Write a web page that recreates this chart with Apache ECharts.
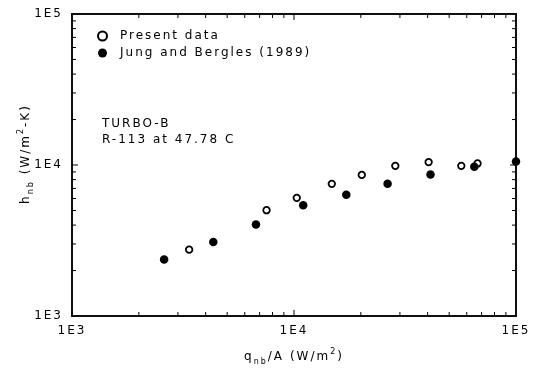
<!DOCTYPE html>
<html>
<head>
<meta charset="utf-8">
<script src="https://cdn.jsdelivr.net/npm/echarts@6/dist/echarts.min.js"></script>
<style>
  html, body { margin: 0; padding: 0; background: #fff; }
  #chart { width: 539px; height: 369px; }
</style>
</head>
<body>
<div id="chart"></div>
<script>
// Nucleate boiling heat transfer coefficient vs. heat flux, TURBO-B tube, R-113.
const presentQ = [3370, 7520, 10290, 14800, 20200, 28600, 40400, 56700, 67100];
const presentH = [2750, 5020, 6060, 7500, 8600, 9870, 10450, 9870, 10240];

const jungQ = [2600, 4330, 6740, 11000, 17200, 26400, 41200, 64900, 100000];
const jungH = [2370, 3090, 4040, 5420, 6360, 7500, 8660, 9720, 10560];

const seriesNames = ['Present data', 'Jung and Bergles (1989)'];
const noteLines = ['TURBO-B', 'R-113 at 47.78 C'];

// Both axes span 1E3 .. 1E5; minor ticks sit at 2..9 of each decade
const AXIS_MIN = 1000;
const AXIS_MAX = 100000;
const majorTicks = [10000];
const minorMantissas = [2, 3, 4, 5, 6, 7, 8, 9];
const minorDecades = [1000, 10000];

// Wide, evenly spaced lettering for every text item on the canvas
(function () {
  const proto = CanvasRenderingContext2D.prototype;
  ['fillText', 'strokeText', 'measureText'].forEach(function (fn) {
    const orig = proto[fn];
    proto[fn] = function () {
      this.letterSpacing = '2px';
      return orig.apply(this, arguments);
    };
  });
})();

const FONT = 'DejaVu Sans';
const minorTicks = [];
minorDecades.forEach(d => minorMantissas.forEach(m => minorTicks.push(m * d)));

const zip = (a, b) => a.map((v, i) => [v, b[i]]);
const expLabel = v => '1E' + Math.round(Math.log10(v));

// Filled rect symbols for ticks and frame edges
const MINOR_LEN = 4;
const MAJOR_LEN = 6;
const FRAME_W = 1.5;
const rectBase = { type: 'scatter', silent: true, clip: false, z: 5, symbol: 'rect', itemStyle: { color: '#000', opacity: 1 } };

function tickSeries(values, len) {
  return [
    Object.assign({}, rectBase, { symbolSize: [1, len], symbolOffset: [0, -len / 2], data: values.map(v => [v, AXIS_MIN]) }),
    Object.assign({}, rectBase, { symbolSize: [1, len], symbolOffset: [0, len / 2], data: values.map(v => [v, AXIS_MAX]) }),
    Object.assign({}, rectBase, { symbolSize: [len, 1], symbolOffset: [len / 2, 0], data: values.map(v => [AXIS_MIN, v]) }),
    Object.assign({}, rectBase, { symbolSize: [len, 1], symbolOffset: [-len / 2, 0], data: values.map(v => [AXIS_MAX, v]) })
  ];
}

const nameRich = {
  b: { fontFamily: FONT, fontSize: 12, color: '#000', lineHeight: 20, verticalAlign: 'middle' },
  sub: { fontFamily: FONT, fontSize: 8, color: '#000', lineHeight: 10, verticalAlign: 'bottom' },
  sup: { fontFamily: FONT, fontSize: 8, color: '#000', lineHeight: 10, verticalAlign: 'top' }
};

const labelStyle = { fontFamily: FONT, fontSize: 12, color: '#000', formatter: expLabel };

function logAxis(extra) {
  return Object.assign({
    type: 'log',
    logBase: 10,
    min: AXIS_MIN,
    max: AXIS_MAX,
    splitNumber: 2,
    axisLine: { show: true, lineStyle: { color: '#000', width: FRAME_W } },
    axisTick: { show: false },
    splitLine: { show: false }
  }, extra);
}

const chart = echarts.init(document.getElementById('chart'));

chart.setOption({
  animation: false,
  backgroundColor: '#fff',
  grid: { left: 72, top: 14, width: 444, height: 302, outerBoundsMode: 'none' },
  xAxis: [
    logAxis({
      position: 'bottom',
      axisLabel: Object.assign({ margin: 8 }, labelStyle),
      name: '{b|q}{sub|nb}{b|/A (W/m}{sup|2}{b|)}',
      nameLocation: 'middle',
      nameGap: 31,
      nameTextStyle: { rich: nameRich }
    }),
    logAxis({ position: 'top', axisLabel: { show: false } })
  ],
  yAxis: [
    logAxis({
      position: 'left',
      axisLabel: Object.assign({ margin: 9 }, labelStyle),
      name: '{b|h}{sub|nb}{b| (W/m}{sup|2}{b|-K)}',
      nameLocation: 'middle',
      nameGap: 36,
      nameMoveOverlap: false,
      nameTextStyle: { rich: nameRich, padding: [0, 0, 0, 22] }
    }),
    logAxis({ position: 'right', axisLabel: { show: false } })
  ],
  legend: {
    orient: 'vertical',
    left: 92,
    top: 24,
    itemWidth: 9,
    itemHeight: 9,
    itemGap: 3,
    icon: 'circle',
    textStyle: { fontFamily: FONT, fontSize: 12, color: '#000', lineHeight: 14, padding: [0, 0, 0, 8] },
    data: seriesNames
  },
  graphic: [{
    type: 'text',
    left: 102,
    top: 116,
    style: {
      text: noteLines.join('\n'),
      font: '12px "' + FONT + '"',
      lineHeight: 16,
      fill: '#000'
    }
  }],
  series: [
    {
      name: seriesNames[0],
      type: 'scatter',
      symbol: 'circle',
      symbolSize: 6.5,
      z: 3,
      itemStyle: { color: '#fff', borderColor: '#000', borderWidth: 1.8, opacity: 1 },
      data: zip(presentQ, presentH)
    },
    {
      name: seriesNames[1],
      type: 'scatter',
      symbol: 'circle',
      symbolSize: 8.5,
      z: 4,
      itemStyle: { color: '#000', opacity: 1 },
      data: zip(jungQ, jungH)
    }
  ].concat(tickSeries(minorTicks, MINOR_LEN), tickSeries(majorTicks, MAJOR_LEN))
});

// Frame edges as filled bars, sized from the grid's own pixel mapping
const lo = chart.convertToPixel({ gridIndex: 0 }, [AXIS_MIN, AXIS_MIN]);
const hi = chart.convertToPixel({ gridIndex: 0 }, [AXIS_MAX, AXIS_MAX]);
const frameW = Math.abs(hi[0] - lo[0]) + FRAME_W;
const frameH = Math.abs(lo[1] - hi[1]) + FRAME_W;
const mid = Math.sqrt(AXIS_MIN * AXIS_MAX);
const opt = chart.getOption();
const frameSeries = [
  Object.assign({}, rectBase, { symbolSize: [frameW, FRAME_W], data: [[mid, AXIS_MIN], [mid, AXIS_MAX]] }),
  Object.assign({}, rectBase, { symbolSize: [FRAME_W, frameH], data: [[AXIS_MIN, mid], [AXIS_MAX, mid]] })
];
chart.setOption({ series: opt.series.concat(frameSeries) });
</script>
</body>
</html>
